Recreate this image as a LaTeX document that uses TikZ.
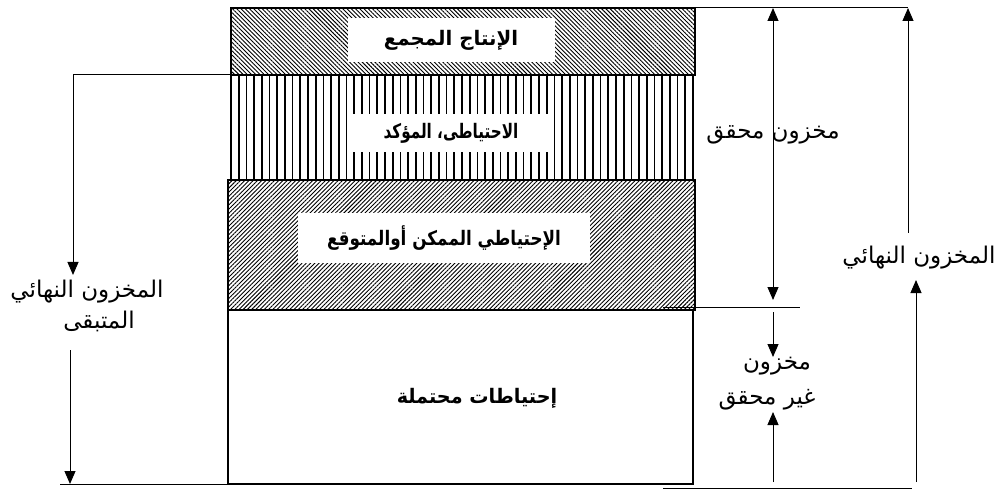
\documentclass[tikz,border=0pt]{standalone}
\usepackage{fontspec}
\usepackage{graphicx}
\newfontfamily\arabicfont[Script=Arabic]{DejaVu Sans}
\TeXXeTstate=1
\usetikzlibrary{patterns.meta,arrows.meta}
\begin{document}
\begin{tikzpicture}[x=1pt,y=-1pt,
  box/.style={draw, line width=1.3pt, inner sep=0pt, outer sep=0pt, anchor=north west},
  lbl/.style={font=\arabicfont\bfseries\fontsize{20}{24}\selectfont, fill=white, inner sep=0pt},
  txt/.style={font=\arabicfont\fontsize{23}{27}\selectfont, inner sep=0pt},
  dim/.style={line width=1pt, -{Triangle[length=13pt,width=11pt]}},
  dimboth/.style={line width=1pt, {Triangle[length=13pt,width=11pt]}-{Triangle[length=13pt,width=11pt]}},
  rule/.style={line width=1pt}]
\useasboundingbox (0,0) rectangle (999,489);
% boxes
\node[box, minimum width=464pt, minimum height=67pt,
  pattern={Lines[angle=-45,distance=3pt,line width=0.9pt]}] (prod) at (231,8) {};
\node[box, minimum width=462pt, minimum height=105pt,
  pattern={Lines[angle=90,distance=7.7pt,line width=1.7pt]}] (proved) at (231,75) {};
\node[box, minimum width=467pt, minimum height=130pt,
  pattern={Lines[angle=45,distance=3pt,line width=0.9pt]}] (possible) at (228,180) {};
\node[box, minimum width=465pt, minimum height=174pt] (probable) at (228,310) {};
% box labels
\node[lbl, minimum width=207pt, minimum height=44pt] (l1) at (451,40) {\scalebox{0.99}[1]{\beginR الإنتاج المجمع\endR}};
\node[lbl, minimum width=205pt, minimum height=38pt] (l2) at (451,133) {\scalebox{0.76}[1]{\beginR الاحتياطى، المؤكد\endR}};
\node[lbl, minimum width=292pt, minimum height=50pt] (l3) at (444,238) {\scalebox{0.84}[1]{\beginR الإحتياطي الممكن أوالمتوقع\endR}};
\node[lbl, fill=none] (l4) at (477,398) {\scalebox{0.96}[1]{\beginR إحتياطات محتملة\endR}};
% coordinates
\coordinate (lt) at (73,75);
\coordinate (ltip) at (73,275);
\coordinate (lb0) at (70,350);
\coordinate (lb1) at (70,484);
\coordinate (bl0) at (60,484);
\coordinate (bl1) at (263,484);
\coordinate (tr0) at (695,8);
\coordinate (tr1) at (908,8);
\coordinate (mt) at (773,8);
\coordinate (mb) at (773,300);
\coordinate (ml0) at (663,307);
\coordinate (ml1) at (800,307);
\coordinate (ms0) at (773,312);
\coordinate (ms1) at (773,357);
\coordinate (mu0) at (773,482);
\coordinate (mu1) at (773,412);
\coordinate (ou0) at (908,233);
\coordinate (ou1) at (916,482);
\coordinate (ou2) at (916,280);
\coordinate (br0) at (663,488);
\coordinate (br1) at (912,488);
% side texts
\node[txt] (t1) at (87,292) {\beginR المخزون النهائي\endR};
\node[txt] (t2) at (99,321) {\beginR المتبقى\endR};
\node[txt] (t3) at (773,135) {\beginR مخزون محقق\endR};
\node[txt] (t4) at (777,366) {\beginR مخزون\endR};
\node[txt] (t5) at (767,400) {\beginR غير محقق\endR};
\node[txt] (t6) at (919,258) {\beginR المخزون النهائي\endR};
% left
\draw[dim] (prod.south west) -- (lt) -- (ltip);
\draw[dim] (lb0) -- (lb1);
\draw[rule] (bl0) -- (bl1);
% right
\draw[rule] (tr0) -- (tr1);
\draw[dimboth] (mt) -- (mb);
\draw[rule] (ml0) -- (ml1);
\draw[dim] (ms0) -- (ms1);
\draw[dim] (mu0) -- (mu1);
\draw[dim] (ou0) -- (tr1 -| ou0);
\draw[dim] (ou1) -- (ou2);
\draw[rule] (br0) -- (br1);
\end{tikzpicture}
\end{document}
